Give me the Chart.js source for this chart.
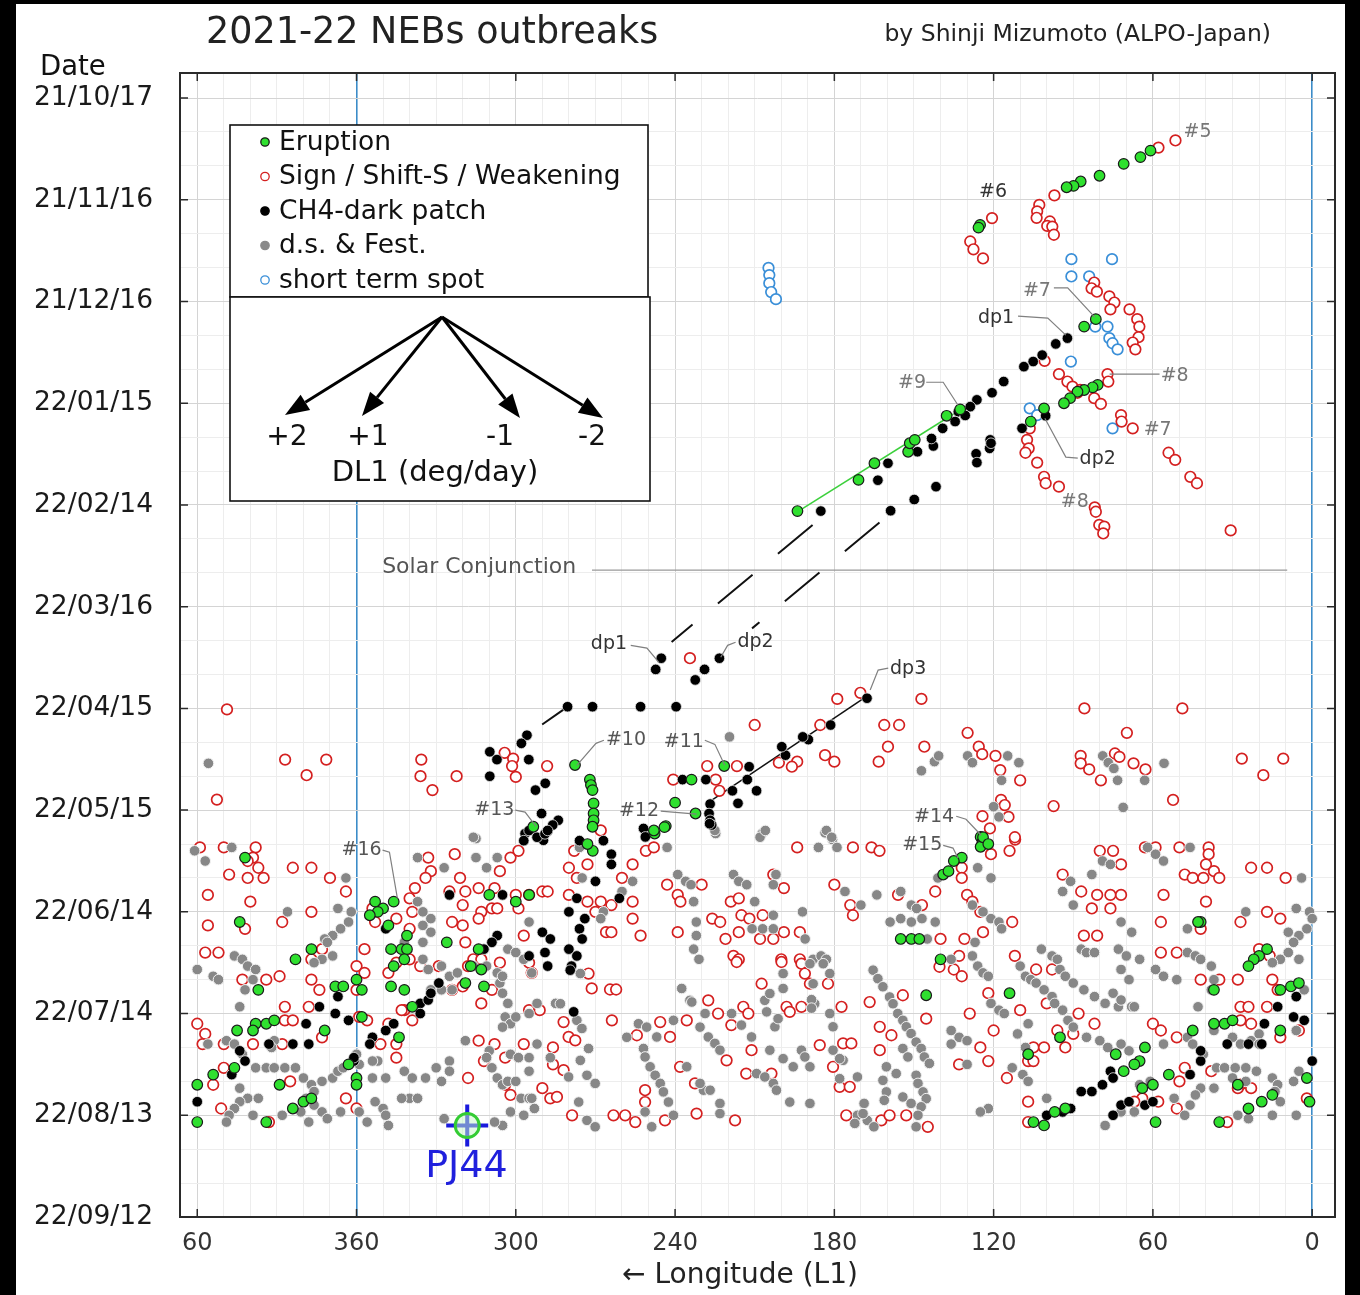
<!DOCTYPE html>
<html><head><meta charset="utf-8">
<script src="https://cdn.jsdelivr.net/npm/chart.js@4.4.1/dist/chart.umd.min.js"></script>
<style>html,body{margin:0;padding:0;background:#000;}canvas{display:block;}</style>
</head><body>
<canvas id="c" width="1360" height="1295"></canvas>
<script>
const FONT = '"DejaVu Sans", Verdana, sans-serif';

// ---- axis definitions (longitude L1 with wrap past 360 on the left; days since 2021-10-17) ----
const xMajorTicks = [420, 360, 300, 240, 180, 120, 60, 0];
const xMajorLabels = ['60', '360', '300', '240', '180', '120', '60', '0'];
const xRange = [-8.6, 426.5];
const yRange = [-7.4, 330];
const yMajorTicks = [0, 30, 60, 90, 120, 150, 180, 210, 240, 270, 300, 330];
const yMajorLabels = ['21/10/17', '21/11/16', '21/12/16', '22/01/15', '22/02/14', '22/03/16', '22/04/15', '22/05/15', '22/06/14', '22/07/14', '22/08/13', '22/09/12'];
const gridStep = 10;

// ---- series: [longitude L1, day since 2021-10-17] ----
const eruption = [
[60.9,15.5],[64.7,17.4],[71,19.4],[80.1,22.9],[87.2,24.6],[89.9,25.9],[92.5,26.3],
[125.1,37.4],[125.7,38.2],[85.9,67.4],[81.5,65.2],
[80.8,84.6],[82.7,85.3],[85.9,86.1],[88.4,86.6],[91.2,88.5],[93.5,90],[101,91.5],[106,95.4],
[193.9,121.8],[170.9,112.6],[164.9,107.7],[152.2,104.3],[151.6,101.8],[149.7,100.8],[137.7,93.7],[132.6,91.8],
[277.7,196.7],[272.1,201],[271.7,202.6],[271.1,204.1],[270.7,208],[270.7,211],[270.7,213],[271.1,214.9],[221.5,197],[233.8,201],[240,207.8],[232.3,211],[243.5,214.7],[247.7,216.9],[293.4,214.9],
[124.9,217.9],[124.2,219.4],[124.9,220.8],
[402,224],[404,243],[383,254],[377,251],[397,263],[368,262],[365,262],[360,260],[358,263],[358,271],[363,285],[360,289],[360,291],[398,273],[394,273],[391,272],[399,275],[405,275],[372,275],[420,291],[414,288],[406,286],[389,291],[384,298],[380,296],[377,295],[420,302],[394,302],[353,237],[350,239],[346,237],[352,240],[355,241],[348,244],[341,247],[343,251],[341,251],[347,251],[342,254],[346,256],[347,262],[342,263],[326,249],[314,251],[317,256],[313,257],[312,262],[319,261],[310,235],[300,237],[295,235],[339,268],[344,277],
[271,222],[273,220],[248,216],[244,215],[155,248],[151,248],[148,248],[145.4,264.6],[140,254],[139,229],
[124,218],[122,220],[132,224],[135,225],[137,228],[42,243],[43,243],[37,263],[17,251],[20,253],[22,254],[24,256],[8,262],[5,261],[12,263],[37,273],[33,273],[30,272],[45,275],[12,275],[63,280],[65,284],[67,285],[71,287],[74,282],[54,288],[60,291],[64,292],[59,302],[93,298],[97,299],[101,303],[105,302],[28,291],[24,298],[19,296],[15,294],[2,289],[114,264],[95,277],[107,282],[35,302],[1,296]
];
const signShift = [
[51.5,12.5],[57.9,14.6],[97.1,28.7],[102.8,31.5],[103.6,33.4],[103.8,35.3],[98.8,36.4],[99.8,37.7],[97.9,37.9],[97.3,40.3],
[120.6,35.4],[128.8,42.3],[127.6,44.6],[124,47.3],
[82.1,54.4],[83.1,56.1],[81.1,57.1],[76.4,58.5],[74.5,60.3],[76,62.3],[68.8,62.3],[65.9,65.2],[65.1,67.4],[65.4,70.5],[67.6,72.1],[66.6,74.1],
[100.8,77.5],[95.4,81.4],[92.2,83.6],[90.3,85.1],[88.4,86.9],[87.4,86.1],[77.1,81.4],[76.8,83.6],[82.1,88.5],[79.6,90.2],[72,93.5],[71.8,95.4],[67.6,97.4],
[106.4,97.4],[107.4,100.8],[106.8,103.3],[108,104.6],[103.6,107.5],[101,111.7],[100.4,113.6],[95.4,114.6],[81.9,120.7],[81.5,122],[80.2,125.9],[78.3,126.4],[78.7,128.4],
[54.1,104.6],[51.6,106.7],[45.9,111.7],[43.4,113.6],[30.7,127.5],
[408.8,180.3],[386.9,195.1],[378.8,199.7],[371.4,195.1],[412.6,206.9],[335.6,195.1],[335.9,200],[331.4,204.1],[322.3,200],[304.2,193.1],[301,194.8],[301.4,197],[300,200.2],[288.2,197],[234.4,165.2],[210,184.9],[240.7,201],[227.9,197],[216.7,197],[224.7,201],[223.3,204.3],
[178.9,177.2],[170.2,175.4],[147.2,177.2],[161.2,184.9],[155.6,184.9],[159.8,191.3],[146.1,191.3],[185.3,184.9],[183.5,193.8],[180,195.7],[194,195.7],[196,197.2],[200.9,196],[163.3,195.7],[129.8,187.2],[125.6,191.3],[124.3,193.5],[119.3,194],[117.5,198.2],[110,201.2],[117.2,207],[115.8,208.5],[114.4,212],[124.2,211.8],[121.4,215.4],[111.9,218.7],[97.4,208.8],[85.8,180],[69.8,187.2],[87.2,194],[87.2,196.2],[84,198],[79.6,201.2],[74.3,193.3],[72.6,194.3],[67.3,196.2],[62.8,198],[52.4,207],[48.9,180],[26.5,194.8],[18.4,199.7],[10.9,194.8],
[419,221],[410,221],[398,221],[399,224],[401,225],[397,227],[408,229],[401,230],[395,230],[384,227],[377,227],[370,230],[416,235],[400,237],[416,244],[402,245],[388,243],[377,240],[417,252],[412,252],[403,260],[394,260],[389,259],[377,260],[373,251],[377,254],[357,251],[360,256],[357,258],[360,263],[374,263],[387,268],[378,268],[420,273],[417,276],[387,272],[384,272],[418,279],[410,279],[399,279],[388,279],[373,277],[359,271],[342,269],[339,272],[351,279],[345,279],[410,286],[414,291],[385,290],[364,295],[360,298],[411,298],[393,302],[345,283],[333,224],[332,228],[323,223],[321,230],[306,228],[302,224],[299,222],[338,233],[334,230],[325,234],[319,234],[314,233],[308,233],[300,235],[290,234],[295,235],[288,234],[340,236],[339,240],[320,238],[324,243],[320,244],[313,240],[309,239],[314,242],[307,239],[299,239],[297,247],[319,249],[316,254],[329,256],[318,256],[336,256],[313,254],[306,255],[295,255],[294,258],[345,255],[348,258],[353,243],[345,242],[340,245],[340,254],[324,263],[320,262],[313,267],[309,263],[295,269],[291,269],[314,278],[308,279],[297,279],[286,280],[286,285],[290,292],[287,295],[302,294],[304,291],[318,289],[312,284],[304,283],[343,269],[348,273],[356,272],[364,234],[354,239],
[278,222],[268,216],[280,227],[273,226],[277,230],[280,235],[273,237],[268,237],[264,238],[270,240],[266,246],[264,246],[256,226],[260,230],[256,237],[256,242],[253,247],[251,222],[248,221],[243,232],[239,235],[238,237],[230,232],[239,246],[226,242],[223,243],[221,248],[219,237],[216,236],[215,241],[216,246],[212,242],[207,241],[208,248],[203,248],[199,246],[193,246],[203,229],[199,233],[194,221],[173,221],[166,221],[163,222],[180,232],[174,238],[173,241],[218,253],[216,254],[200,254],[193,254],[156,235],[142,234],[147,238],[140,248],
[271.4,262.6],[264.5,262.9],[262.2,262.9],[263.8,272],[282,272.5],[280.1,276.9],[277.6,277.9],[254.4,276.4],[241.9,276.9],[245.6,272.5],[235.6,272],[227.5,266.1],[223.8,270],[218.8,273.4],[214.3,268],[212.4,270],[207.4,261.2],[198,268],[196.8,269.5],[192.4,268],[185.5,279.3],[177.3,268],[176.7,278.8],[173.6,278.8],[180.5,285.7],[178,291.6],[174.2,291.6],[166.7,266.6],[162.9,273.9],[158.5,276.4],[162.9,280.8],[154.2,264.6],[145.4,271.5],[211.2,280.8],[220.6,283.8],[213.2,287.7],[203.7,287.7],[238.1,285.7],[232.5,290.6],[251.3,292.6],[251.3,296.1],[263.2,300],[258.8,300],[255,302],[243.8,301.5],[231.9,299.5],[217.4,301.5],[278.8,300],[175.5,300],[162.3,301.5],[159.2,300],[152.9,300],[144.8,303.4],
[216.8,254.8],[199.9,254.8],[192.4,255.3],[191.1,258.2],[189.2,261.2],[182.4,261.2],[140.4,256.2],[272.6,258.2],[284.5,294.6],[282,286.7],
[112,218],[114,222],[121,223],[132,227],[132,230],[130,235],[128,237],[125,240],[124,246],[113,243],[131,248],[133,253],[135,257],[132,259],[112,253],[122,264],[129,270],[120,275],[125,280],[122,284],[115,289],[107,284],[105,284],[133,285],[105,280],[101,280],[93,280],[110,269],[96,275],[94,229],[87,234],[81,235],[76,235],[72,235],[83,239],[76,239],[72,226],[80,222],[75,222],[86,247],[81,247],[104,257],[98,257],[100,267],[88,270],[82,273],[90,276],[107,296],[63,221],[59,221],[50,221],[39,221],[39,223],[40,226],[37,228],[48,229],[45,230],[35,230],[41,230],[56,235],[40,237],[57,243],[42,245],[27,243],[17,240],[23,227],[17,227],[10,230],[57,252],[51,252],[42,260],[35,260],[28,260],[15,260],[13,263],[27,268],[24,268],[17,268],[27,272],[23,273],[12,277],[5,275],[60,273],[57,275],[51,277],[48,286],[38,287],[27,291],[23,292],[28,292],[50,290],[51,298],[64,295],[58,296],[32,302],[2,295],[67,296],[107,302],[12,242],[20,251],[16,253]
];
const ch4Dark = [
[92.2,70.8],[96.6,72.5],[101.7,75.8],[105.1,77.7],[108.6,79.2],[116.2,83.6],[120.6,86.9],[126.3,89],[128.8,91],[133.3,92.5],[130.7,93.6],[134.5,95.4],[139.2,97.4],[142.7,102.6],[148.7,104.3],[159.8,107.7],[163.6,112.7],[141.7,114.6],[149.9,118.4],[158.8,121.7],[126.6,104.9],[126.3,107.5],[121.5,103.3],[121.3,100.8],[121,101.8],[143.4,100.4],[109.3,97.4],[100.4,93.7],[185.1,121.8],
[245.2,165.2],[247.3,168.5],[232.4,171.6],[228.9,168.5],[223.3,165.2],[280.5,179.5],[271.1,179.5],[253,179.5],[239.6,179.5],[295.8,187.9],[297.9,190.3],[309.8,192.8],[307.1,195.1],[295.1,195.1],[309.8,200],[288.9,202.1],[292.6,204.1],[290.3,211],[237.2,201],[228.4,201],[212.1,197.2],[212.8,201],[218.4,204.3],[216.3,208],[226.8,208.2],[227.2,211],[226.8,213],[226.2,214.4],[284,213],[286.1,214.4],[288.2,216.4],[289.6,218.9],[296.5,216.9],[251.9,215.4],[251.2,217.9],
[167.7,177],[181.4,184.9],[189.8,189.2],[191.9,188.4],[198.4,193.8],[199.8,191.3],[209.3,204.3],
[325,235],[305,235],[349,245],[295,216],[292,218],[289,217],[288,216],[297,219],[290,246],[287,248],[289,252],[295,253],[288,256],[307,247],[309,249],[312,251],[336,267],[333,266],[329,261],[332,264],[336,270],[346,273],[349,275],[354,277],[355,279],[367,265],[374,268],[368,270],[363,272],[379,273],[378,279],[384,279],[393,279],[404,281],[402,284],[407,288],[420,296],[361,284],[361,283],
[276,219],[264,223],[264,226],[270,231],[261,236],[277,236],[280,240],[274,242],[276,245],[275,248],[280,251],[277,253],[279,256],[278.2,269.5],[279.5,257.2],[267,219],[227,214],
[76,287],[75,289],[79,291],[83,293],[87,293],[91,298],[94,299],[100,300],[72,297],[69,296],[63,297],[60,296],[75,300],[46,288],[42,284],[32,279],[24,279],[19,279],[18,273],[13,268],[7,271],[6,265],[3,272],[0,284],[42,281]
];
const dsFest = [
[415.8,196.2],[219.5,188.4],[315,218.4],[224.7,216.9],[147.2,198.4],[142.3,195.7],[140.7,194],[129.8,194],[128,196],[114.7,194],[110.5,196],[117,201.2],[120,209],[118,212],[78.9,194],[76.8,196],[74.7,197.7],[73.3,201.2],[63.1,201.2],[55.8,196.2],[71.2,209.2],[207.2,216.9],[183.5,216.7],[180.7,218.7],
[421,222],[417,225],[407,221],[386,240],[367,239],[364,230],[362,240],[363,243],[366,245],[369,247],[372,248],[371,249],[373,254],[376,255],[369,253],[406,253],[403,254],[401,256],[398,257],[420,257],[414,259],[412,260],[402,263],[399,260],[404,268],[416,279],[409,278],[406,279],[403,282],[391,278],[392,280],[398,286],[394,286],[391,286],[387,286],[383,286],[380,289],[377,291],[376,293],[373,290],[369,289],[367,287],[365,286],[379,295],[376,297],[381,299],[378,302],[404,292],[401,295],[404,296],[406,298],[408,300],[409,302],[399,300],[388,300],[397,295],[373,299],[371,301],[366,299],[353,296],[350,298],[349,300],[348,303],[359,299],[356,302],[354,289],[349,289],[342,287],[339,289],[334,289],[330,286],[325,284],[325,287],[319,278],[315,224],[311,227],[307,224],[316,218],[337,224],[327,227],[337,237],[335,240],[332,242],[335,244],[332,246],[335,249],[342,249],[335,254],[333,257],[328,256],[325,259],[322,258],[332,263],[328,263],[324,263],[316,256],[311,256],[307,258],[306,261],[305,264],[303,267],[304,271],[302,273],[300,271],[305,274],[295,270],[292,267],[285,267],[295,243],[303,251],[300,252],[305,259],[297,254],[294,258],[310,281],[311,283],[309,286],[307,289],[305,291],[303,290],[300,290],[302,282],[299,283],[295,283],[295,287],[292,279],[287,283],[298,295],[295,295],[294,295],[293,298],[302,299],[305,303],[308,302],[297,300],[340,295],[337,295],[343,295],[327,301],[328,290],[352,284],[354,284],[360,282],[359,285],
[276,221],[275,230],[260,234],[267,240],[268,242],[256,231],[243,221],[239,229],[236,231],[234,232],[233,237],[218,229],[216,231],[213,232],[210,237],[208,218],[206,216],[186,221],[183,216],[181,218],[179,221],[202,229],[203,232],[176,234],[170,238],[164,235],[192,240],[203,241],[211,245],[207,245],[203,245],[191,248],[232,243],[232,247],[233,251],[231,254],[155,234],[151,238],[149,239],[147,242],[151,243],[155,242],[159,243],[142,243],[145,248],[141,230],[188,254],[185,253],[183,254],[225,216],
[253.8,273],[251.9,280.3],[251.3,282.8],[249.4,285.7],[247.5,288.2],[245.6,290.6],[244.4,293.1],[242.5,296.1],[240.6,300],[248.8,303.4],[251.3,299],[250.7,274],[258.2,277],[246.9,276.9],[240.6,272],
[237.5,262.6],[234.4,266.1],[228.7,270],[230.6,274],[227.5,276.9],[225,278.8],[223.1,280.8],[235.6,285.7],[229.3,292.6],[226.8,292.6],[223.1,296.5],[223.1,299.5],[233.7,266.6],[230.6,290.6],
[206.2,266.1],[204.3,264.1],[199.3,258.2],[199.3,262.6],[188,261.2],[187.4,267.1],[181.7,258.2],[184.2,255.3],[189.2,255.3],[205.5,269.5],[202.4,273.9],[211.2,276.9],[204.3,280.8],[199.3,283.3],[195.5,285.7],[192.4,280.8],[189.2,285.7],[209.3,287.7],[206.2,288.7],[203,290.6],[201.8,292.6],[196.8,296.1],[189.2,296.5],[180.5,273.9],[181.7,270],[180.5,280.8],[176.7,283.8],[178,289.2],[171.3,288.7],[168.8,296.5],[171.3,300],[167.6,301.5],[165.1,303.4],[215,273.4],[218.7,270],[201.2,271.5],[188.6,265.9],[188.6,268.4],[178,283.3],[191.1,282.8],[169.2,299.5],[172.3,302.4],
[165.4,257.2],[163.6,259.7],[161.7,262.1],[159.2,265.1],[157.9,267.1],[156.1,270],[154.2,272],[152.9,273.9],[151.1,275.9],[149.2,278.4],[147.3,280.3],[146.1,282.8],[144.2,284.7],
[154.2,280.3],[152.3,282.8],[149.2,288.2],[148.5,290.6],[146.6,293.1],[145.4,295.1],[147.3,297.5],[148.5,300],[149.2,303.4],[160.4,285.7],[156.7,287.7],[161.7,289.7],[160.4,293.1],[161.2,295.6],[154.2,294.6],[151.1,296.5],
[277,272],[275.1,274.4],[272.6,280.3],[273.2,288.2],[270.1,290.6],[275.7,283.8],[280.1,288.7],[283.2,267.1],[276.3,296.1],[273.2,301.5],[270.1,303.4],[275.7,258.2],
[126,227],[121,230],[128,238],[124,240],[121,242],[118,243],[117,245],[127,249],[128,253],[126,256],[124,258],[122,259],[136,254],[136,275],[133,277],[130,278],[136,279],[130,285],[121,267],[118,269],[116,270],[107,273],[111,276],[108,280],[113,286],[109,288],[107,290],[122,298],[125,299],[100,295],[110,256],[108,259],[106,260],[104,261],[101,263],[98,265],[97,267],[94,269],[92,272],[90,274],[102,251],[98,253],[96,254],[95,257],[93,259],[90,261],[86,263],[82,265],[78,267],[73,268],[68,268],[87,251],[85,252],[82,252],[73,251],[70,253],[65,254],[72,257],[69,260],[75,264],[72,266],[67,268],[91,231],[94,234],[90,238],[83,229],[79,225],[76,226],[72,243],[68,246],[62,221],[59,223],[56,225],[46,221],[47,245],[59,257],[56,259],[51,260],[47,252],[44,253],[42,254],[38,256],[37,260],[38,263],[43,268],[4,230],[6,239],[1,240],[0,242],[2,245],[9,246],[5,247],[7,249],[9,252],[12,254],[15,255],[25,240],[5,254],[3,263],[6,275],[20,276],[30,277],[27,279],[23,278],[20,279],[37,275],[85,277],[80,278],[77,280],[72,279],[69,281],[56,279],[47,277],[45,279],[41,282],[36,286],[33,286],[29,286],[25,286],[21,287],[30,289],[25,290],[15,289],[13,291],[14,293],[12,296],[15,300],[6,300],[5,287],[7,290],[42,292],[44,294],[46,297],[48,300],[52,295],[37,292],[28,300],[24,301],[61,290],[65,291],[67,299],[72,299],[78,303]
];
const shortTerm = [
[204.8,50.1],[204.5,52.2],[204.5,54.6],[203.8,57.2],[202,59.3],
[90.7,47.5],[75.4,47.5],[90.7,52.6],[84,52.6],[81.7,67.4],[77.1,67.4],[76.4,70.8],[75.2,72.3],[73.3,74.1],[90.9,77.7],[106.4,91.5],[103.6,93.5],[75.2,97.4]
];
const pj44 = [[318.3, 303]];

// ---- tracks ----
const trend9 = [[193.5,121.8],[131.5,91.4]];
const dp3Track = [[226,207],[167,176]];
const dp1Dash = [[188.2,125.9],[241.3,160.4]];
const dp2Dash = [[163,125.2],[211,156.4]];
const dp1DashLow = [[280.5,179.5],[295.8,187.9]];
const solarLine = [[271.3,139.2],[9.4,139.2]];

// ---- annotations: text, anchor [lon, day], leader polyline ----
const notes = [
 {t:'#5', at:[43.2,10.0], c:'#777', lead:[]},
 {t:'#6', at:[120.2,27.7], c:'#333', lead:[]},
 {t:'#7', at:[103.7,56.9], c:'#777', lead:[[97.3,56.0],[92.1,56.0],[81.9,64.6]]},
 {t:'dp1', at:[119.1,64.9], c:'#333', lead:[[110.8,64.3],[99.6,64.9],[92.8,69.9]]},
 {t:'#9', at:[150.7,84.1], c:'#777', lead:[[145.4,83.8],[139,83.8],[133.4,90.6]]},
 {t:'#8', at:[51.8,82.0], c:'#777', lead:[[57.5,81.4],[76.3,81.4]]},
 {t:'#7', at:[58.2,97.9], c:'#777', lead:[]},
 {t:'dp2', at:[80.8,106.5], c:'#333', lead:[[88.3,106.2],[92.8,105.9],[100.7,94.4]]},
 {t:'#8', at:[89.4,119.2], c:'#777', lead:[]},
 {t:'dp1', at:[264.9,161.1], c:'#333', lead:[[256.7,161.4],[250.6,162.2],[246.1,166.4]]},
 {t:'dp2', at:[209.7,160.5], c:'#333', lead:[[217.2,160.5],[220.2,161.4],[222.8,164.9]]},
 {t:'dp3', at:[152.2,168.4], c:'#333', lead:[[159.7,168.1],[163.5,168.7],[166.5,174.6]]},
 {t:'#10', at:[258.5,189.4], c:'#555', lead:[[266.8,189.4],[269.8,190.3],[277,196.8]]},
 {t:'#11', at:[236.7,190.0], c:'#555', lead:[[228.8,189.4],[225,190.6],[221.3,196.8]]},
 {t:'#13', at:[308.1,210.0], c:'#555', lead:[[300.2,210],[296.5,210.6],[292.4,214.8]]},
 {t:'#12', at:[253.6,210.3], c:'#555', lead:[[245.4,210.3],[231.9,211.2]]},
 {t:'#14', at:[142.4,212.1], c:'#555', lead:[[134.1,211.8],[130.4,212.7],[124.7,217.4]]},
 {t:'#15', at:[146.9,220.4], c:'#555', lead:[[139,220.4],[135.3,221.2],[133.4,224.2]]},
 {t:'#16', at:[358.1,221.8], c:'#555', lead:[[350.2,221.8],[347.6,222.4],[344.6,236]]}
];
const solarText = {t:'Solar Conjunction', at:[313.8,138.4]};
const pjText = {t:'PJ44', at:[318.6,315.3]};

const legendItems = [
 {label:'Eruption', fill:'#2fe02f', stroke:'#1a1a1a'},
 {label:'Sign / Shift-S / Weakening', fill:'#ffffff', stroke:'#d42020'},
 {label:'CH4-dark patch', fill:'#000000', stroke:'#000000'},
 {label:'d.s. & Fest.', fill:'#8a8a8a', stroke:'#8a8a8a'},
 {label:'short term spot', fill:'#ffffff', stroke:'#3a8fd8'}
];
const arrowRates = ['+2', '+1', '-1', '-2'];

const xy = a => a.map(p => ({x:p[0], y:p[1]}));

function pointSet(label, data, bg, border, bw, order){
  return {label, data: xy(data), backgroundColor: bg, borderColor: border, borderWidth: bw,
    pointRadius: 5.3, pointHoverRadius: 5.3, showLine: false, order};
}
function lineSet(label, data, color, width, dash, order){
  return {label, data: xy(data), borderColor: color, borderWidth: width, borderDash: dash,
    pointRadius: 0, showLine: true, fill: false, order, tension: 0};
}

const decor = {
  id: 'decor',
  beforeDraw(chart){
    const c = chart.ctx;
    c.save();
    c.fillStyle = '#000'; c.fillRect(0, 0, 1360, 1295);
    c.fillStyle = '#fff'; c.fillRect(16, 4, 1329, 1291);
    c.restore();
  },
  afterDatasetsDraw(chart){
    const c = chart.ctx, X = chart.scales.x, Y = chart.scales.y, a = chart.chartArea;
    const px = p => [X.getPixelForValue(p[0]), Y.getPixelForValue(p[1])];
    c.save();
    // annotations
    c.font = '19px ' + FONT; c.textAlign = 'center'; c.textBaseline = 'middle';
    notes.forEach(n => {
      if (n.lead.length){
        c.strokeStyle = '#808080'; c.lineWidth = 1.2; c.beginPath();
        n.lead.forEach((q, i) => { const [u, v] = px(q); i ? c.lineTo(u, v) : c.moveTo(u, v); });
        c.stroke();
      }
      const [u, v] = px(n.at); c.fillStyle = n.c; c.fillText(n.t, u, v);
    });
    c.font = '22px ' + FONT; c.fillStyle = '#555';
    let [su, sv] = px(solarText.at); c.fillText(solarText.t, su, sv);
    c.font = '38px ' + FONT; c.fillStyle = '#2020dd';
    [su, sv] = px(pjText.at); c.fillText(pjText.t, su, sv);

    // frame
    c.strokeStyle = '#2a2a2a'; c.lineWidth = 2;
    c.strokeRect(a.left, a.top, a.right - a.left, a.bottom - a.top);
    c.lineWidth = 1.5; c.beginPath();
    xMajorTicks.forEach(v => { const u = X.getPixelForValue(v);
      c.moveTo(u, a.top); c.lineTo(u, a.top + 8); c.moveTo(u, a.bottom); c.lineTo(u, a.bottom - 8); });
    yMajorTicks.forEach(v => { const w = Y.getPixelForValue(v);
      c.moveTo(a.left, w); c.lineTo(a.left + 8, w); c.moveTo(a.right, w); c.lineTo(a.right - 8, w); });
    c.stroke();

    // legend box
    c.fillStyle = '#fff'; c.fillRect(230, 125, 418, 172);
    c.strokeStyle = '#111'; c.lineWidth = 1.6; c.strokeRect(230, 125, 418, 172);
    c.fillRect(230, 297, 420, 204); c.strokeRect(230, 297, 420, 204);
    c.textAlign = 'left'; c.font = '26.5px ' + FONT;
    legendItems.forEach((it, i) => {
      const yy = 142 + i * 34.5;
      c.beginPath(); c.arc(265, yy, 4.2, 0, Math.PI * 2);
      c.fillStyle = it.fill; c.fill(); c.strokeStyle = it.stroke; c.lineWidth = 1.3; c.stroke();
      c.fillStyle = '#111'; c.fillText(it.label, 279, yy + 1);
    });
    // DL1 arrows
    const o = [442, 317], ends = [[285, 415], [362, 416], [520, 418], [603, 418]];
    ends.forEach(e => {
      const dx = e[0] - o[0], dy = e[1] - o[1], L = Math.hypot(dx, dy), ux = dx / L, uy = dy / L;
      const hl = 24, hw = 9, bx = e[0] - ux * hl, by = e[1] - uy * hl;
      c.strokeStyle = '#000'; c.lineWidth = 3; c.beginPath(); c.moveTo(o[0], o[1]); c.lineTo(bx, by); c.stroke();
      c.fillStyle = '#000'; c.beginPath(); c.moveTo(e[0], e[1]);
      c.lineTo(bx - uy * hw, by + ux * hw); c.lineTo(bx + uy * hw, by - ux * hw); c.closePath(); c.fill();
    });
    c.font = '28px ' + FONT; c.textAlign = 'center'; c.fillStyle = '#111';
    [287, 368, 500, 592].forEach((u, i) => c.fillText(arrowRates[i], u, 438));
    c.font = '29px ' + FONT;
    c.fillText('DL1 (deg/day)', 435, 473);

    // titles
    c.textAlign = 'left'; c.font = '36.5px ' + FONT; c.fillStyle = '#222';
    c.fillText('2021-22 NEBs outbreaks', 206, 34);
    c.textAlign = 'right'; c.font = '23.5px ' + FONT;
    c.fillText('by Shinji Mizumoto (ALPO-Japan)', 1271, 35);
    c.textAlign = 'left'; c.font = '27.5px ' + FONT; c.fillStyle = '#111';
    c.fillText('Date', 40, 68);
    c.textAlign = 'center'; c.font = '28px ' + FONT; c.fillStyle = '#222';
    c.fillText('\u2190 Longitude (L1)', 740, 1276);
    c.restore();
  }
};

const gridColor = (ctx, majorStep) => {
  const v = ctx.tick ? ctx.tick.value : 1;
  if (majorStep === 60 && (v === 0 || v === 360)) return '#3c8cc8';
  return (v % majorStep === 0) ? '#d4d4d4' : '#ededed';
};

new Chart(document.getElementById('c'), {
  type: 'scatter',
  data: { datasets: [
    pointSet('Eruption', eruption, '#2fe02f', '#1a1a1a', 1.2, 1),
    pointSet('CH4-dark patch', ch4Dark, '#000000', '#e8e8e8', 0.8, 2),
    pointSet('d.s. & Fest.', dsFest, '#878787', '#f2f2f2', 1, 3),
    pointSet('Sign / Shift-S / Weakening', signShift, '#ffffff', '#d42020', 1.7, 4),
    pointSet('short term spot', shortTerm, '#ffffff', '#3a8fd8', 1.7, 5),
    lineSet('#9 track', trend9, '#3cd03c', 1.5, [], 6),
    lineSet('dp3 track', dp3Track, '#111', 1.5, [], 6),
    lineSet('dp1 dashed', dp1Dash, '#111', 2, [45, 33], 6),
    lineSet('dp2 dashed', dp2Dash, '#111', 2, [45, 33], 6),
    lineSet('dp1 dashed low', dp1DashLow, '#111', 2, [0, 5, 26, 60], 6),
    lineSet('Solar Conjunction', solarLine, '#999', 1.2, [], 6),
    {label:'PJ44 ring', data: xy(pj44), pointRadius: 12, backgroundColor: 'rgba(200,245,200,0.5)', borderColor: '#33cc33', borderWidth: 3, showLine: false, order: 0},
    {label:'PJ44', data: xy(pj44), pointStyle: 'cross', pointRadius: 21, borderColor: '#1a1add', borderWidth: 4, showLine: false, order: 0}
  ]},
  options: {
    responsive: false, animation: false, devicePixelRatio: 1, events: [],
    layout: { padding: { left: 0, right: 22, top: 73, bottom: 0 } },
    plugins: { legend: { display: false }, tooltip: { enabled: false }, title: { display: false } },
    scales: {
      x: {
        type: 'linear', reverse: true, min: xRange[0], max: xRange[1],
        afterBuildTicks: s => { const t = []; for (let v = 0; v <= 420; v += gridStep) t.push({value: v}); s.ticks = t; },
        afterFit: s => { s.height = 78; },
        ticks: { autoSkip: false, maxRotation: 0, minRotation: 0, padding: 12, color: '#333',
          font: { family: FONT, size: 24 },
          callback: v => { const i = xMajorTicks.indexOf(v); return i >= 0 ? xMajorLabels[i] : ''; } },
        grid: { drawTicks: false, color: ctx => gridColor(ctx, 60),
          lineWidth: ctx => (ctx.tick && (ctx.tick.value === 0 || ctx.tick.value === 360)) ? 1.6 : 1 },
        border: { display: false }
      },
      y: {
        type: 'linear', reverse: true, min: yRange[0], max: yRange[1],
        afterBuildTicks: s => { const t = []; for (let v = 0; v <= 330; v += gridStep) t.push({value: v}); s.ticks = t; },
        afterFit: s => { s.width = 180; },
        ticks: { autoSkip: false, padding: 27, color: '#1a1a1a',
          font: { family: FONT, size: 26.5 },
          callback: v => { const i = yMajorTicks.indexOf(v); return i >= 0 ? yMajorLabels[i] : ''; } },
        grid: { drawTicks: false, color: ctx => gridColor(ctx, 30) },
        border: { display: false }
      }
    }
  },
  plugins: [decor]
});
</script>
</body></html>
